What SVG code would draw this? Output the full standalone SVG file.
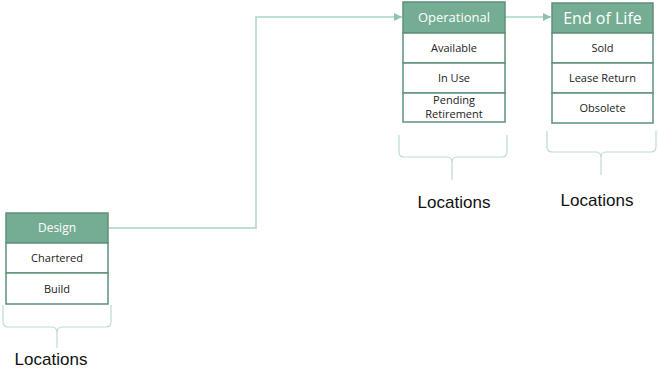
<svg xmlns="http://www.w3.org/2000/svg" width="658" height="370" viewBox="0 0 658 370">
  <defs>
    <marker id="arrow" viewBox="0 0 10 10" refX="10" refY="5" markerWidth="8" markerHeight="8" markerUnits="userSpaceOnUse" orient="auto">
      <path d="M0,0 L10,5 L0,10 z" fill="#8cc4ad"/>
    </marker>
    <style>
      .hdr { fill: #74ad93; stroke: #5e917a; stroke-width: 1.5; }
      .row { fill: #ffffff; stroke: #5e917a; stroke-width: 1.5; }
      .htxt { fill: #ffffff; font-family: "Open Sans", "Liberation Sans", sans-serif; text-anchor: middle; }
      .rtxt { fill: #222222; font-family: "Open Sans", "Liberation Sans", sans-serif; font-size: 11px; text-anchor: middle; }
      .conn { fill: none; stroke: #a9d6c3; stroke-width: 1.5; }
      .brace { fill: none; stroke: #bcdccf; stroke-width: 1.2; }
      .loc { fill: #111111; font-family: "Liberation Sans", Arial, sans-serif; font-size: 17px; text-anchor: middle; }
    </style>
  </defs>

  <!-- connectors -->
  <g id="connectors">
    <path class="conn" d="M108,228 H256 V17 H402" marker-end="url(#arrow)"/>
    <path class="conn" d="M505,17 H551" marker-end="url(#arrow)"/>
  </g>

  <g id="design">
    <rect class="hdr" x="6" y="213" width="102" height="30"/>
    <text class="htxt" x="57" y="232" font-size="12">Design</text>
    <rect class="row" x="6" y="243" width="102" height="30"/>
    <text class="rtxt" x="57" y="262">Chartered</text>
    <rect class="row" x="6" y="273" width="102" height="31"/>
    <text class="rtxt" x="57" y="293">Build</text>
  </g>

  <g id="operational">
    <rect class="hdr" x="403" y="2" width="102" height="31"/>
    <text class="htxt" x="454" y="22" font-size="13">Operational</text>
    <rect class="row" x="403" y="33" width="102" height="30"/>
    <text class="rtxt" x="454" y="52">Available</text>
    <rect class="row" x="403" y="63" width="102" height="30"/>
    <text class="rtxt" x="454" y="82">In Use</text>
    <rect class="row" x="403" y="93" width="102" height="29"/>
    <text class="rtxt" x="454" y="104">Pending</text>
    <text class="rtxt" x="454" y="118">Retirement</text>
  </g>

  <g id="end-of-life">
    <rect class="hdr" x="552" y="3" width="101" height="30"/>
    <text class="htxt" x="602.5" y="24" font-size="16">End of Life</text>
    <rect class="row" x="552" y="33" width="101" height="30"/>
    <text class="rtxt" x="602.5" y="52">Sold</text>
    <rect class="row" x="552" y="63" width="101" height="30"/>
    <text class="rtxt" x="602.5" y="82">Lease Return</text>
    <rect class="row" x="552" y="93" width="101" height="30"/>
    <text class="rtxt" x="602.5" y="112">Obsolete</text>
  </g>

  <!-- braces with labels -->
  <g id="locations-design">
    <path class="brace" d="M3,305 V322 Q3,327 8,327 H52 Q57,327 57,333 V348 M57,333 Q57,327 62,327 H106 Q111,327 111,322 V305"/>
    <text class="loc" x="51" y="365">Locations</text>
  </g>
  <g id="locations-operational">
    <path class="brace" d="M399,135 V152 Q399,157 404,157 H447 Q452,157 452,163 V180 M452,163 Q452,157 457,157 H502 Q507,157 507,152 V135"/>
    <text class="loc" x="454" y="208">Locations</text>
  </g>
  <g id="locations-end-of-life">
    <path class="brace" d="M547,131 V147 Q547,152 552,152 H596 Q601,152 601,158 V175 M601,158 Q601,152 606,152 H651 Q656,152 656,147 V131"/>
    <text class="loc" x="597" y="206">Locations</text>
  </g>
</svg>
